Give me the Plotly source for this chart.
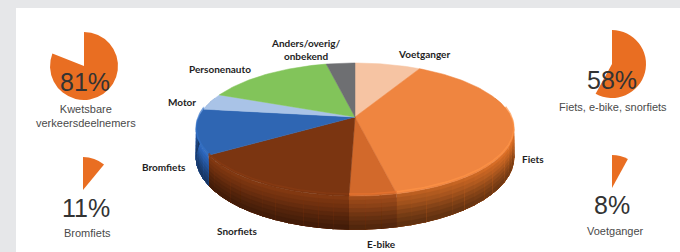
import numpy as np
import plotly.graph_objects as go

# ---------------- data ----------------
categories = ["Voetganger", "Fiets", "E-bike", "Snorfiets", "Bromfiets",
              "Motor", "Personenauto", "Anders/overig/<br>onbekend"]
shares = [8, 38.5, 4, 15.5, 11, 4, 15.5, 3.5]
top_colors = ["#f6c4a3", "#ef8540", "#d2692b", "#7b3511",
              "#2f66b3", "#a9c3e7", "#82c45a", "#6e6f72"]
side_colors = ["#c99a7c", "#a3531d", "#8f4418", "#743210",
               "#2a5fae", "#7f98bb", "#5e9a3c", "#4e4f52"]

inset_values = [81, 58, 11, 8]
inset_numbers = ["81%", "58%", "11%", "8%"]
inset_labels = ["Kwetsbare<br>verkeersdeelnemers", "Fiets, e-bike, snorfiets",
                "Bromfiets", "Voetganger"]

W, H_FIG = 680, 252
fig = go.Figure()

# ---------------- 3D pie geometry (perspective ellipse) ----------------
X0, Y0, A, B, K, DEPTH = 355, 117, 156, 64.2, 0.188, 27


def rim(theta_deg, drop=0.0):
    t = np.radians(theta_deg)
    u, v = np.sin(t), -np.cos(t)
    w = 1 - K * v
    return X0 + A * u / w, Y0 + B * v / w + drop * DEPTH / w


def shade(hexcol, f):
    hexcol = hexcol.lstrip("#")
    r, g, b = (int(hexcol[i:i + 2], 16) for i in (0, 2, 4))
    r, g, b = (min(255, int(c * f)) for c in (r, g, b))
    return f"rgb({r},{g},{b})"


total = sum(shares)
bounds = np.concatenate([[0], np.cumsum(shares) / total * 360])

# side walls: angular segments x vertical gradient bands (overlapping to hide seams)
nb = 8
band_starts = np.linspace(0, 1, nb, endpoint=False)
band_f = np.array([1.12, 1.04, 0.97, 0.88, 0.79, 0.71, 0.64, 0.58])
VIS0, VIS1, STEP = 72, 288, 5.0
for i in range(len(shares)):
    a0, a1 = max(bounds[i], VIS0), min(bounds[i + 1], VIS1)
    if a1 <= a0:
        continue
    nseg = max(1, int(np.ceil((a1 - a0) / STEP)))
    edges = np.linspace(a0, a1, nseg + 1)
    for s0, s1 in zip(edges[:-1], edges[1:]):
        mid = (s0 + s1) / 2
        fang = 1 + 0.28 * max(0.0, np.cos(np.radians(mid - 90))) ** 2
        th = np.linspace(s0, min(s1 + 0.4, a1), 4)
        for d1, f in zip(band_starts, band_f):
            xt, yt = rim(th, d1)
            xb, yb = rim(th[::-1], 1.0)
            col = shade(side_colors[i], f * fang)
            fig.add_trace(go.Scatter(
                x=np.concatenate([xt, xb]), y=np.concatenate([yt, yb]),
                mode="lines", fill="toself", fillcolor=col,
                line=dict(width=0.5, color=col),
                hoverinfo="skip", showlegend=False))

# top faces
for i in range(len(shares)):
    a0, a1 = bounds[i], bounds[i + 1]
    th = np.linspace(a0, a1, max(3, int((a1 - a0) / 1.0) + 2))
    xr, yr = rim(th)
    fig.add_trace(go.Scatter(
        x=np.concatenate([[X0], xr, [X0]]), y=np.concatenate([[Y0], yr, [Y0]]),
        mode="lines", fill="toself", fillcolor=top_colors[i],
        line=dict(width=0.5, color=top_colors[i]),
        hoverinfo="skip", showlegend=False))

# subtle bevel highlight along the front rim of the top faces
for i in range(len(shares)):
    a0, a1 = max(bounds[i], VIS0 + 10), min(bounds[i + 1], VIS1 - 10)
    if a1 <= a0:
        continue
    th = np.linspace(a0, a1, max(3, int(a1 - a0) + 2))
    xr, yr = rim(th, -0.06)
    fig.add_trace(go.Scatter(
        x=xr, y=yr, mode="lines", line=dict(width=1.6, color=shade(top_colors[i], 1.12)),
        opacity=0.7, hoverinfo="skip", showlegend=False))

# ---------------- main pie labels ----------------
label_pos = [(424, 54), (533, 159), (381, 244), (237, 231), (164, 167),
             (182, 102), (220, 69), (305, 49)]
for name, (lx, ly) in zip(categories, label_pos):
    fig.add_annotation(x=lx, y=ly, xref="x", yref="y", text=f"<b>{name}</b>",
                       showarrow=False, xanchor="center", yanchor="middle",
                       font=dict(family="Lato", size=10, color="#1e1e1e"))

# ---------------- inset pies ----------------
inset_centers = [(84, 66, 34), (612, 64, 34), (83, 190, 33), (612, 188, 33)]
number_pos = [(85, 82), (612, 80), (86, 208), (612, 205)]
label_text_pos = [(86, 116), (613, 107), (87, 233), (615, 231)]
for val, (cx, cy, r) in zip(inset_values, inset_centers):
    fig.add_trace(go.Pie(
        values=[val, 100 - val], sort=False, direction="clockwise", rotation=0,
        marker=dict(colors=["#e96e22", "rgba(0,0,0,0)"], line=dict(width=0)),
        textinfo="none", hoverinfo="skip", showlegend=False,
        domain=dict(x=[(cx - r) / W, (cx + r) / W],
                    y=[(H_FIG - (cy + r)) / H_FIG, (H_FIG - (cy - r)) / H_FIG])))

for num, (nx, ny) in zip(inset_numbers, number_pos):
    fig.add_annotation(x=nx, y=ny, xref="x", yref="y", text=num, showarrow=False,
                       xanchor="center", yanchor="middle",
                       font=dict(family="Liberation Sans", size=25, color="#333333"))
for lab, (tx, ty) in zip(inset_labels, label_text_pos):
    fig.add_annotation(x=tx, y=ty, xref="x", yref="y", text=lab, showarrow=False,
                       xanchor="center", yanchor="middle",
                       font=dict(family="Liberation Sans", size=11, color="#4a4a4a"))

fig.update_layout(
    width=W, height=H_FIG, margin=dict(l=0, r=0, t=0, b=0),
    paper_bgcolor="#e6e7e9", plot_bgcolor="#ffffff",
    xaxis=dict(domain=[16 / W, 1], range=[16, W], visible=False, fixedrange=True),
    yaxis=dict(domain=[0, 244 / H_FIG], range=[H_FIG, 8], visible=False, fixedrange=True),
)
fig.write_html("out.html", config={"displayModeBar": False},
               post_script="document.body.style.margin='0';document.body.style.overflow='hidden';")
